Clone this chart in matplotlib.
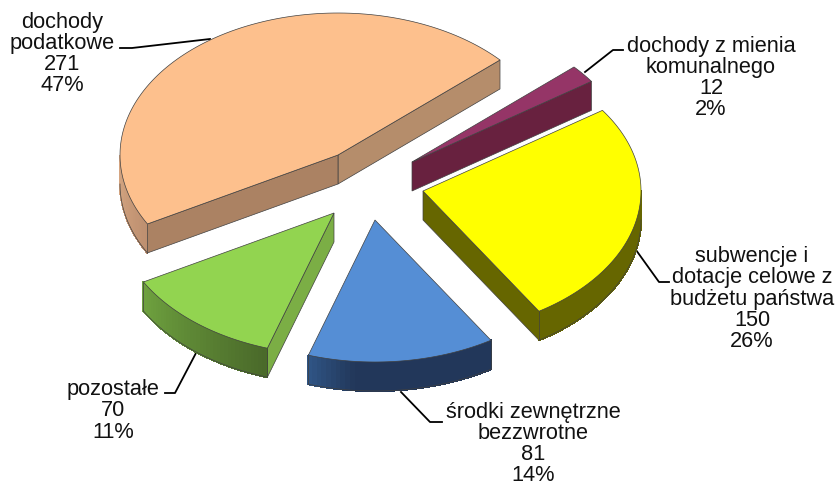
import numpy as np
import matplotlib
matplotlib.use('Agg')
import matplotlib.pyplot as plt
from matplotlib.colors import to_rgb
from matplotlib.patches import Polygon

plt.rcParams['font.family'] = ['Liberation Sans', 'DejaVu Sans']

# data, counter-clockwise from the first slice
categories = ['dochody\npodatkowe', 'pozostałe', 'środki zewnętrzne\nbezzwrotne',
              'subwencje i\ndotacje celowe z\nbudżetu państwa',
              'dochody z mienia\nkomunalnego']
values = [271, 70, 81, 150, 12]
percents = ['47%', '11%', '14%', '26%', '2%']

# styles
top_colors = ['#FDC08D', '#92D450', '#558ED5', '#FFFF00', '#953567']
side_colors = ['#AB8263', '#7BAE45', '#22375A', '#666600', '#68213F']
side_colors_2 = ['#B58D6B', '#7BAE45', '#22375A', '#666600', '#68213F']
wall_from = ['#D8A884', '#6FA23F', '#2F5484', '#666600', '#68213F']
wall_to = ['#BE9070', '#4A6A2A', '#22375A', '#666600', '#68213F']
wall_fade = [1, 1, 0.25, 1, 1]

# layout, in pixels
center = (372, 178)
rx, ry, depth = 218, 142, 29
start_angle = 42
explode = [(-34, -23), (-38, 35), (3, 42), (51, 13), (40, -16)]
label_pos = [(62, 54), (113, 411), (533, 444), (752, 299), (711, 78)]
leaders = [[(120, 48), (132, 48), (210, 39)],
           [(165, 393), (175, 393), (196, 353)],
           [(401, 392), (430, 422), (442, 422)],
           [(636, 250), (659, 282), (669, 282)],
           [(623, 50), (613, 50), (585, 72)]]
edge = '#404040'

fig = plt.figure(figsize=(8.37, 4.87), dpi=100)
ax = fig.add_axes([0, 0, 1, 1])
ax.set_xlim(0, 837)
ax.set_ylim(487, 0)
ax.axis('off')


def rim(cx, cy, t0, t1, n=120):
    t = np.radians(np.linspace(t0, t1, n))
    return np.column_stack([cx + rx * np.cos(t), cy - ry * np.sin(t)])


def flat_wall(cx, cy, angle, color):
    p = rim(cx, cy, angle, angle, 1)[0]
    pts = [(cx, cy), tuple(p), (p[0], p[1] + depth), (cx, cy + depth)]
    ax.add_patch(Polygon(pts, closed=True, fc=color, ec=edge, lw=0.5, zorder=2))


angles = np.cumsum([0] + values) / sum(values) * 360 + start_angle

for i in range(len(values)):
    t0, t1 = angles[i], angles[i + 1]
    cx, cy = center[0] + explode[i][0], center[1] + explode[i][1]

    # side faces that look towards the viewer
    if np.cos(np.radians(t0)) > 0:
        flat_wall(cx, cy, t0, side_colors_2[i])
    if np.cos(np.radians(t1)) < 0:
        flat_wall(cx, cy, t1, side_colors[i])

    # outer wall, only the part in the lower half of the ellipse
    lo, hi = max(t0, 180), min(t1, 360)
    if hi > lo:
        steps = np.linspace(lo, hi, 40)
        c0, c1 = np.array(to_rgb(wall_from[i])), np.array(to_rgb(wall_to[i]))
        for k in range(len(steps) - 1):
            top = rim(cx, cy, steps[k], steps[k + 1], 6)
            low = top[::-1] + (0, depth)
            frac = min(1, k / (len(steps) - 2) / wall_fade[i])
            col = c0 + (c1 - c0) * frac
            ax.add_patch(Polygon(np.vstack([top, low]), closed=True, fc=col, ec=col,
                                 lw=0.8, antialiased=False, zorder=2))
        arc = rim(cx, cy, lo, hi)
        ax.plot(arc[:, 0], arc[:, 1] + depth, color=edge, lw=0.5, zorder=3)
        # vertical edges only where the slice really ends
        for a in (lo, hi):
            if a in (t0, t1):
                p = rim(cx, cy, a, a, 1)[0]
                ax.plot([p[0], p[0]], [p[1], p[1] + depth], color=edge, lw=0.5, zorder=3)

    # top face
    pts = np.vstack([[(cx, cy)], rim(cx, cy, t0, t1)])
    ax.add_patch(Polygon(pts, closed=True, fc=top_colors[i], ec=edge, lw=0.5, zorder=4))

for i in range(len(values)):
    xs, ys = zip(*leaders[i])
    ax.plot(xs, ys, color='black', lw=1.3, zorder=1)
    ax.text(label_pos[i][0], label_pos[i][1],
            categories[i] + '\n' + str(values[i]) + '\n' + percents[i],
            ha='center', va='center', fontsize=15.7, linespacing=1.02,
            color='#111111', zorder=5)

fig.savefig('out.png', dpi=100)
plt.close()
